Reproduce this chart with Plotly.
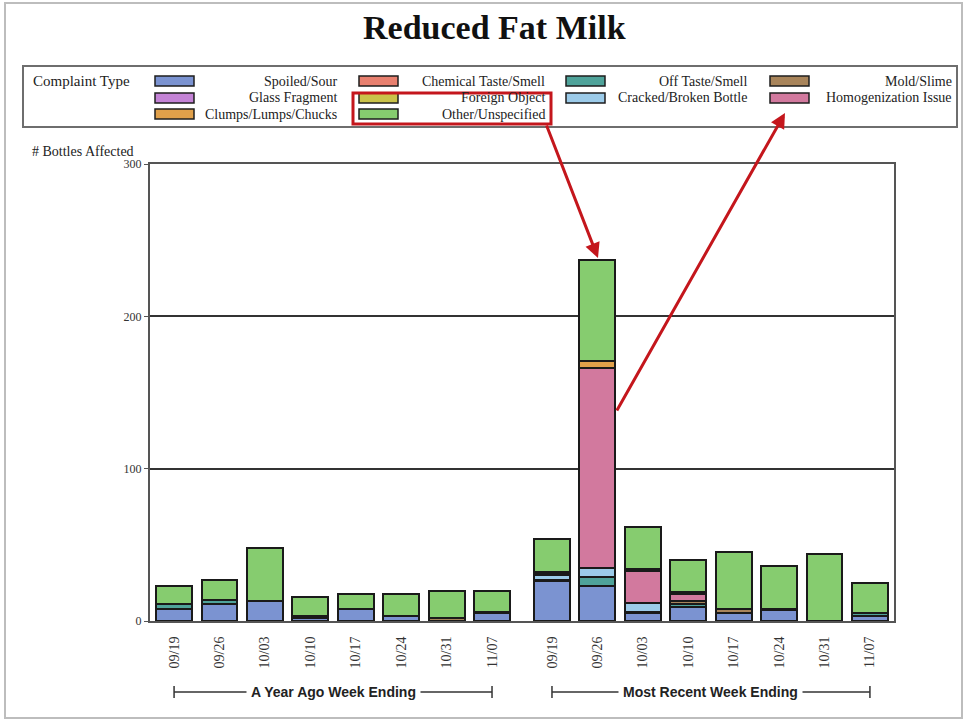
import plotly.graph_objects as go

# ---------------- data ----------------
weeks = ["09/19", "09/26", "10/03", "10/10", "10/17", "10/24", "10/31", "11/07"]
tick_labels = weeks + weeks
group_labels = ["A Year Ago Week Ending", "Most Recent Week Ending"]

spoiled   = [8, 11, 13, 2, 8, 3, 0, 5,    26, 23, 5, 9, 5, 7, 0, 3]
chemical  = [0, 0, 0, 0, 0, 0, 0, 0,     0, 0, 0, 0, 0, 0, 0, 0]
off_taste = [3, 3, 0, 0, 0, 0, 0, 1,     1, 6, 1, 2, 0, 1, 0, 2]
mold      = [0, 0, 0, 1, 0, 0, 2, 0,     0, 0, 0, 2, 3, 0, 0, 0]
glass     = [0, 0, 0, 0, 0, 0, 0, 0,     0, 0, 0, 0, 0, 0, 0, 0]
foreign   = [0, 0, 0, 0, 0, 0, 0, 0,     0, 0, 0, 0, 0, 0, 0, 0]
cracked   = [0, 0, 0, 0, 0, 0, 0, 0,     3, 6, 6, 0, 0, 0, 0, 0]
homog     = [0, 0, 0, 0, 0, 0, 0, 0,     1, 131, 21, 5, 0, 0, 0, 0]
clumps    = [0, 0, 0, 0, 0, 0, 0, 0,     1, 5, 1, 1, 0, 0, 0, 0]
other     = [12, 13, 35, 13, 10, 15, 18, 14,  22, 66, 28, 21, 37, 28, 44, 20]

series_names = ["Spoiled/Sour", "Chemical Taste/Smell", "Off Taste/Smell", "Mold/Slime",
                "Glass Fragment", "Foreign Object", "Cracked/Broken Bottle",
                "Homogenization Issue", "Clumps/Lumps/Chucks", "Other/Unspecified"]
series_values = [spoiled, chemical, off_taste, mold, glass, foreign, cracked,
                 homog, clumps, other]
series_colors = ["#7b93d1", "#e8806f", "#4fa39a", "#a8845a", "#c483d6",
                 "#c9c24a", "#9ccbe9", "#d2799e", "#e0a04a", "#86cc6f"]

# ---------------- positions (layout) ----------------
GAP = 1.32
xpos = [i for i in range(8)] + [8 + GAP - 1 + i for i in range(8)]

W, H = 964, 719
L, R, T, B = 150, 70, 164, 98
PW, PH = W - L - R, H - T - B


def X(px):
    return (px - L) / PW


def Y(py):
    return (H - B - py) / PH


SERIF = "Liberation Serif, Times New Roman, serif"
NARROW = "Liberation Sans Narrow, Arial Narrow, Liberation Sans, sans-serif"

fig = go.Figure()
for name, vals, col in zip(series_names, series_values, series_colors):
    fig.add_trace(go.Bar(
        x=xpos, y=[v if v else None for v in vals], name=name,
        marker=dict(color=col, line=dict(color="#1a1a1a", width=2)),
        width=0.79, showlegend=False,
    ))

shapes = []
annotations = []

# Title
annotations.append(dict(text="<b>Reduced Fat Milk</b>", x=X(494), y=Y(27), xref="paper", yref="paper",
                        showarrow=False, font=dict(family=SERIF, size=34, color="#111"),
                        xanchor="center", yanchor="middle"))

# Outer frame
shapes.append(dict(type="rect", xref="paper", yref="paper", x0=X(5), x1=X(962), y0=Y(3), y1=Y(718),
                   line=dict(color="#bdbdbd", width=2)))

# Legend box
shapes.append(dict(type="rect", xref="paper", yref="paper", x0=X(23), x1=X(957), y0=Y(66), y1=Y(127),
                   line=dict(color="#6e6e6e", width=2), fillcolor="rgba(0,0,0,0)"))
annotations.append(dict(text="Complaint Type", x=X(31), y=Y(81), xref="paper", yref="paper",
                        showarrow=False, xanchor="left", yanchor="middle",
                        font=dict(family=SERIF, size=15, color="#222")))
sw_x = [155, 359, 566, 770]
txt_r = [339, 547, 749, 954]
row_y = [81, 98, 114]
for k, (name, col) in enumerate(zip(series_names, series_colors)):
    r, c = divmod(k, 4)
    yc = row_y[r]
    shapes.append(dict(type="rect", xref="paper", yref="paper", x0=X(sw_x[c]), x1=X(sw_x[c] + 39),
                       y0=Y(yc + 5), y1=Y(yc - 5), fillcolor=col,
                       line=dict(color="#1e1e1e", width=1.5)))
    annotations.append(dict(text=name, x=X(txt_r[c]), y=Y(yc), xref="paper", yref="paper",
                            showarrow=False, xanchor="right", yanchor="middle",
                            font=dict(family=SERIF, size=14, color="#222")))

# Y axis title
annotations.append(dict(text="# Bottles Affected", x=X(30), y=Y(151), xref="paper", yref="paper",
                        showarrow=False, xanchor="left", yanchor="middle",
                        font=dict(family=SERIF, size=14, color="#222")))

# Group brackets
for g, (a, b) in enumerate([(xpos[0], xpos[7]), (xpos[8], xpos[15])]):
    yl = Y(692)
    shapes.append(dict(type="line", xref="x", yref="paper", x0=a, x1=b, y0=yl, y1=yl,
                       line=dict(color="#333", width=1.5)))
    for e in (a, b):
        shapes.append(dict(type="line", xref="x", yref="paper", x0=e, x1=e, y0=Y(686), y1=Y(698),
                           line=dict(color="#333", width=1.5)))
    annotations.append(dict(text="<b>" + group_labels[g] + "</b>", x=(a + b) / 2, y=yl, xref="x",
                            yref="paper", showarrow=False, xanchor="center", yanchor="middle",
                            bgcolor="white", borderpad=4,
                            font=dict(family=NARROW, size=14, color="#222")))

# Red highlight
RED = "#c4161c"
shapes.append(dict(type="rect", xref="paper", yref="paper", x0=X(353), x1=X(551), y0=Y(93), y1=Y(124),
                   line=dict(color=RED, width=3)))
annotations.append(dict(text="", x=X(598), y=Y(258), xref="paper", yref="paper",
                        ax=546 - 598, ay=124 - 258, showarrow=True, arrowhead=2, arrowsize=1,
                        arrowwidth=3, arrowcolor=RED))
annotations.append(dict(text="", x=X(785), y=Y(113), xref="paper", yref="paper",
                        ax=616 - 785, ay=412 - 113, showarrow=True, arrowhead=2, arrowsize=1,
                        arrowwidth=3, arrowcolor=RED))

fig.update_layout(
    width=W, height=H, autosize=False,
    margin=dict(l=L, r=R, t=T, b=B, pad=0),
    barmode="stack",
    paper_bgcolor="white", plot_bgcolor="white",
    shapes=shapes, annotations=annotations,
    xaxis=dict(range=[-0.53, xpos[-1] + 0.53], tickvals=xpos, ticktext=tick_labels,
               tickangle=-90, showgrid=False, zeroline=False, showline=True, mirror=True,
               linecolor="#555", linewidth=2, ticks="", ticklabelstandoff=8,
               tickfont=dict(family=SERIF, size=14, color="#333")),
    yaxis=dict(range=[0, 300], tickvals=[0, 100, 200, 300], showgrid=True,
               gridcolor="#333", gridwidth=1.5, zeroline=False, showline=True, mirror=True,
               linecolor="#555", linewidth=2, ticks="outside", ticklen=4, tickcolor="#555",
               tickfont=dict(family=SERIF, size=12, color="#333")),
)

fig.write_html("out.html")
